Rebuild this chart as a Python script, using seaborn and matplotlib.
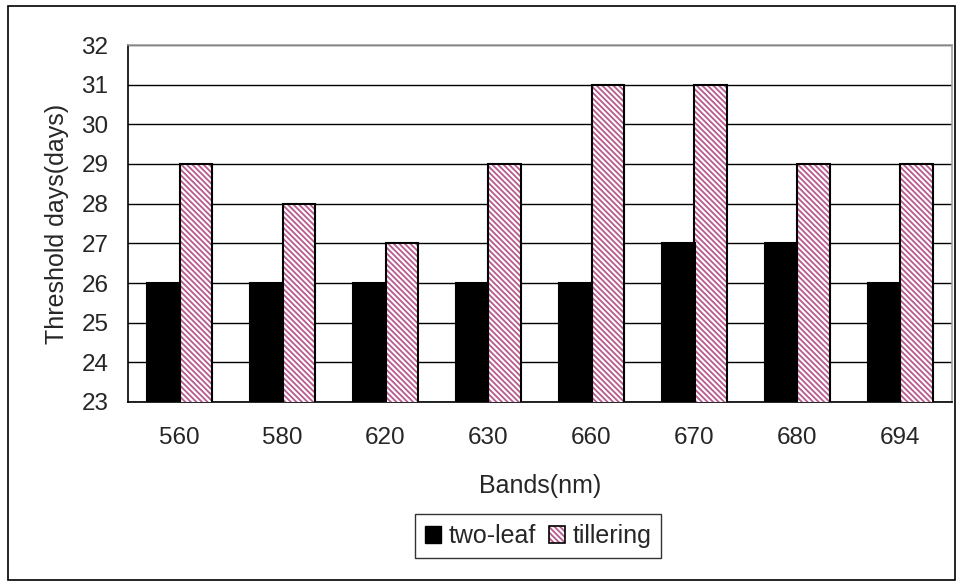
import matplotlib
matplotlib.use('Agg')
import matplotlib.pyplot as plt
from matplotlib.patches import Rectangle
from matplotlib.legend_handler import HandlerTuple
import numpy as np
import pandas as pd
import seaborn as sns

# valeurs
bands = ['560', '580', '620', '630', '660', '670', '680', '694']
two_leaf = [26, 26, 26, 26, 26, 27, 27, 26]
tillering = [29, 28, 27, 29, 31, 31, 29, 29]

data = pd.DataFrame({'band': bands * 2,
                     'days': two_leaf + tillering,
                     'stage': ['two-leaf'] * len(bands) + ['tillering'] * len(bands)})

sns.set_style('white')
plt.rcParams['font.family'] = ['Liberation Sans', 'DejaVu Sans']
plt.rcParams['hatch.linewidth'] = 1.3

fig = plt.figure(figsize=(9.6, 5.86), dpi=100)
ax = fig.add_axes([128 / 960, 1 - 402 / 586, (952 - 128) / 960, (402 - 45) / 586])

sns.barplot(data=data, x='band', y='days', hue='stage', palette=['black', 'white'],
            width=0.64, gap=0, ax=ax, legend=False, zorder=3)

pink = '#B85A8E'
hatch = '\\' * 6
n = len(bands)
for i, p in enumerate(ax.patches[:2 * n]):
    p.set_linewidth(0)
    if i >= n:
        p.set_hatch(hatch)
        p.set_edgecolor(pink)
    # contour noir
    ax.add_patch(Rectangle(p.get_xy(), p.get_width(), p.get_height(), fill=False,
                           edgecolor='black', linewidth=1.5, zorder=4))

ax.set_ylim(23, 32)
ax.set_xlim(-0.5, n - 0.5)
ax.set_yticks(range(23, 33))
ax.set_xticks(np.arange(n))
ax.set_xticklabels(bands)
ax.set_xticks(np.arange(n + 1) - 0.5, minor=True)
ax.tick_params(axis='x', which='major', length=0, labelsize=17.5, pad=18)
ax.tick_params(axis='x', which='minor', length=6, width=1, color='black', direction='out')
ax.tick_params(axis='y', length=6, width=1, color='black', direction='out', labelsize=17.5, pad=8)
ax.yaxis.grid(True, color='black', linewidth=1, zorder=0)
ax.set_axisbelow(True)

for s in ['left', 'bottom']:
    ax.spines[s].set_color('black')
    ax.spines[s].set_linewidth(1.2)
for s in ['top', 'right']:
    ax.spines[s].set_color('#A0A0A0')
    ax.spines[s].set_linewidth(1.2)

ax.set_xlabel('Bands(nm)', fontsize=18, labelpad=18)
ax.set_ylabel('Threshold days(days)', fontsize=18, labelpad=9)

# legende : carre noir, carre hachure avec contour noir
h1 = Rectangle((0, 0), 1, 1, facecolor='black', edgecolor='black')
h2 = Rectangle((0, 0), 1, 1, facecolor='white', edgecolor=pink, hatch=hatch, linewidth=0)
h2b = Rectangle((0, 0), 1, 1, fill=False, edgecolor='black', linewidth=1.2)
leg = fig.legend([h1, (h2, h2b)], ['two-leaf', 'tillering'], loc='center',
                 bbox_to_anchor=(538 / 960, 1 - 536 / 586),
                 handler_map={tuple: HandlerTuple(ndivide=1, pad=0)},
                 ncol=2, fontsize=18, frameon=True, fancybox=False, edgecolor='black',
                 handlelength=0.65, handleheight=0.65, handletextpad=0.3, columnspacing=0.5,
                 borderpad=0.4, borderaxespad=0)
leg.get_frame().set_linewidth(1)

# cadre de la figure
fig.patches.append(Rectangle((8 / 960, 6 / 586), 947 / 960, 574 / 586, transform=fig.transFigure,
                             fill=False, edgecolor='black', linewidth=1.2))

fig.savefig('out.png', dpi=100)
